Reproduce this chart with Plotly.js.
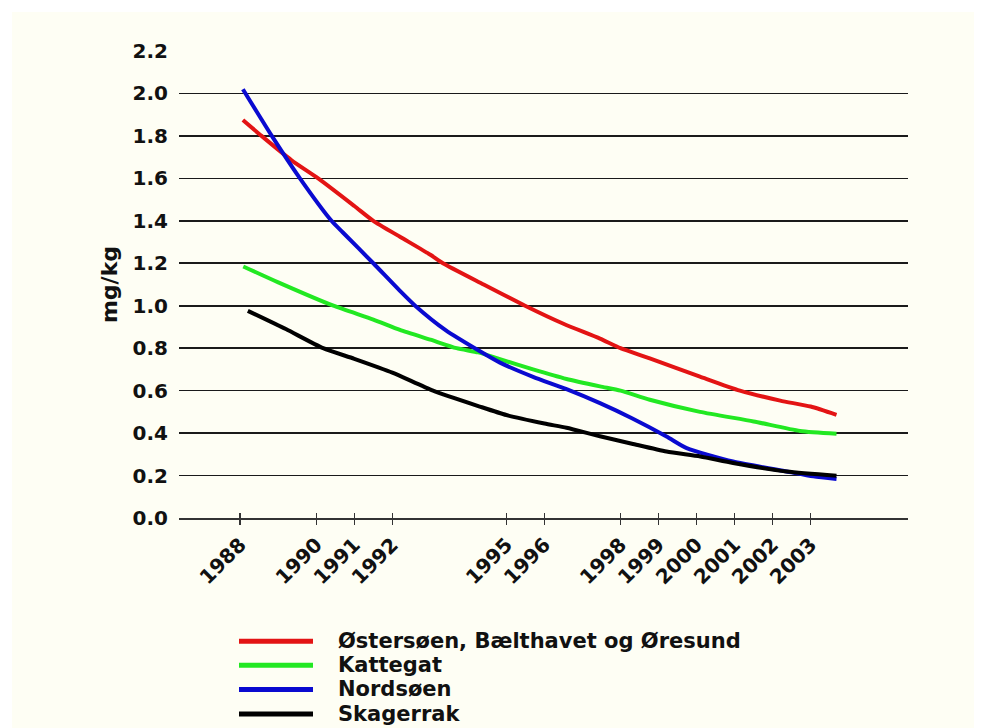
<!DOCTYPE html>
<html>
<head>
<meta charset="utf-8">
<script src="https://cdn.plot.ly/plotly-3.0.1.min.js"></script>
<style>
  html, body { margin: 0; padding: 0; background: #ffffff; overflow: hidden; }
  #chart { position: absolute; left: 12px; top: 12px; width: 962px; height: 716px; }
</style>
</head>
<body>
<div id="chart"></div>
<script>
// ---- Data ----
const seriesNames = ["Østersøen, Bælthavet og Øresund", "Kattegat", "Nordsøen", "Skagerrak"];
const seriesColors = ["#e31414", "#22e822", "#0a0ad0", "#000000"];

const tickYears = [1988, 1990, 1991, 1992, 1995, 1996, 1998, 1999, 2000, 2001, 2002, 2003];
const tickLabels = ["1988", "1990", "1991", "1992", "1995", "1996", "1998", "1999", "2000", "2001", "2002", "2003"];

const ostersoenYears  = [1988.07, 1988.56, 1989.35, 1990.05, 1991.0, 1991.5, 1992.2, 1993.0, 1993.33, 1994.4, 1995.49, 1996.5, 1997.46, 1998.0, 1998.77, 2000.09, 2001.14, 2002.2, 2003.0, 2003.68];
const ostersoenValues = [1.875, 1.80, 1.685, 1.60, 1.47, 1.40, 1.325, 1.24, 1.20, 1.10, 1.00, 0.915, 0.845, 0.80, 0.752, 0.666, 0.60, 0.553, 0.525, 0.486];

const kattegatYears  = [1988.08, 1989.0, 1990.45, 1991.5, 1992.2, 1993.0, 1993.69, 1994.26, 1994.83, 1995.7, 1996.58, 1997.46, 1998.0, 1998.77, 2000.09, 2001.5, 2002.72, 2003.68];
const kattegatValues = [1.185, 1.11, 1.00, 0.935, 0.886, 0.84, 0.80, 0.78, 0.748, 0.70, 0.655, 0.62, 0.60, 0.557, 0.50, 0.455, 0.41, 0.397];

const nordsoenYears  = [1988.07, 1988.83, 1989.57, 1990.4, 1990.7, 1991.5, 1992.2, 1992.6, 1993.4, 1994.26, 1994.83, 1995.7, 1996.58, 1997.46, 1998.3, 1999.21, 1999.74, 2000.96, 2002.37, 2003.07, 2003.68];
const nordsoenValues = [2.02, 1.80, 1.60, 1.40, 1.345, 1.20, 1.07, 1.00, 0.885, 0.79, 0.732, 0.665, 0.607, 0.541, 0.47, 0.384, 0.329, 0.266, 0.219, 0.196, 0.184];

const skagerrakYears  = [1988.2, 1989.2, 1990.18, 1991.0, 1992.0, 1993.07, 1994.3, 1995.0, 1996.0, 1996.58, 1997.46, 1998.3, 1999.21, 2000.1, 2000.96, 2002.37, 2003.68];
const skagerrakValues = [0.976, 0.89, 0.80, 0.75, 0.685, 0.60, 0.525, 0.485, 0.445, 0.425, 0.385, 0.35, 0.313, 0.29, 0.259, 0.219, 0.199];

const yAxisTitle = "mg/kg";

// ---- Build chart ----
const allYears = [ostersoenYears, kattegatYears, nordsoenYears, skagerrakYears];
const allValues = [ostersoenValues, kattegatValues, nordsoenValues, skagerrakValues];

const traces = seriesNames.map((name, i) => ({
  type: "scatter",
  mode: "lines",
  name: name,
  x: allYears[i],
  y: allValues[i],
  line: { color: seriesColors[i], width: 4, shape: "spline", smoothing: 0.6 },
  showlegend: false,
  hoverinfo: "skip"
}));
// empty trace so the overlay axis (upper half of the crossing ticks) is drawn
traces.push({ type: "scatter", mode: "lines", x: [], y: [], xaxis: "x2", yaxis: "y", showlegend: false, hoverinfo: "skip" });

const FONT = "DejaVu Sans, Verdana, sans-serif";
const cream = "#fefef4";

// plot area in page pixels: x 179..908, y 50.7..518.3
const plotLeft = 179, plotRight = 908, plotTop = 50.7, plotBottom = 518.3;
const px2paperX = (px) => (px - plotLeft) / (plotRight - plotLeft);
const px2paperY = (py) => (plotBottom - py) / (plotBottom - plotTop);

// custom legend (long line samples like the reference)
const legendLineY = [641.7, 665.7, 690, 714.5];
const shapes = [];
const annotations = [];
seriesNames.forEach((name, i) => {
  shapes.push({
    type: "line", xref: "paper", yref: "paper", layer: "above",
    x0: px2paperX(239), x1: px2paperX(313),
    y0: px2paperY(legendLineY[i]), y1: px2paperY(legendLineY[i]),
    line: { color: seriesColors[i], width: 5 }
  });
  annotations.push({
    xref: "paper", yref: "paper",
    x: px2paperX(336), y: px2paperY(legendLineY[i]),
    xanchor: "left", yanchor: "middle",
    text: "<b>" + name + "</b>", showarrow: false,
    font: { family: FONT, size: 21, color: "#111" }
  });
});

const xRange = [1986.39, 2005.56];

const layout = {
  width: 962, height: 716,
  margin: { l: 167, r: 66, t: 39, b: 210, pad: 0 },
  paper_bgcolor: cream,
  plot_bgcolor: cream,
  font: { family: FONT, color: "#111" },
  showlegend: false,
  xaxis: {
    range: xRange,
    tickmode: "array", tickvals: tickYears, ticktext: tickLabels,
    tickangle: -45,
    tickfont: { family: FONT, size: 20, color: "#111", weight: "bold" },
    ticks: "outside", ticklen: 5, tickwidth: 1.5, tickcolor: "#333",
    showgrid: false, zeroline: false,
    showline: true, linecolor: "#333", linewidth: 2,
    fixedrange: true
  },
  xaxis2: {
    overlaying: "x", anchor: "y", side: "bottom",
    range: xRange,
    tickmode: "array", tickvals: tickYears,
    showticklabels: false,
    ticks: "inside", ticklen: 5, tickwidth: 1.5, tickcolor: "#333",
    showgrid: false, zeroline: false, showline: false,
    fixedrange: true
  },
  yaxis: {
    range: [0, 2.2], dtick: 0.2, tick0: 0, tickformat: ".1f",
    tickfont: { family: FONT, size: 20, color: "#111", weight: "bold" },
    ticks: "outside", ticklen: 6, tickcolor: "rgba(0,0,0,0)",
    showgrid: true, gridcolor: "#1a1a1a", gridwidth: 1.6,
    zeroline: false, showline: false,
    title: { text: "<b>" + yAxisTitle + "</b>", standoff: 8, font: { family: FONT, size: 22, color: "#111" } },
    fixedrange: true
  },
  shapes: shapes,
  annotations: annotations
};

Plotly.newPlot("chart", traces, layout, { displayModeBar: false, staticPlot: true });
</script>
</body>
</html>
